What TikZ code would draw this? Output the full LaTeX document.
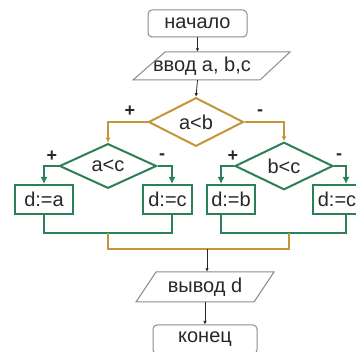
\documentclass[tikz,border=0pt]{standalone}
\usepackage{fontspec}
\setmainfont{Liberation Sans}
\usetikzlibrary{shapes.geometric,arrows.meta,calc}
\definecolor{gline}{RGB}{45,128,85}
\definecolor{oline}{RGB}{196,150,58}
\definecolor{bline}{RGB}{140,140,140}
\definecolor{txt}{RGB}{40,40,40}
\tikzset{
  lbl/.style={font=\fontsize{20}{22}\selectfont, text=txt},
  termbox/.style={lbl, draw=bline, line width=1pt, rounded corners=4pt, inner sep=0pt},
  iotext/.style={lbl, inner sep=0pt},
  ioline/.style={draw=bline, line width=1pt},
  obox/.style={lbl, draw=oline, line width=2pt, diamond, inner sep=0pt},
  gdia/.style={lbl, draw=gline, line width=2pt, diamond, inner sep=0pt},
  gbox/.style={lbl, draw=gline, line width=2pt, inner sep=0pt},
  barr/.style={draw=black!85, line width=0.8pt, -{Latex[length=3.5pt,width=3.5pt]}},
  oarr/.style={draw=oline, line width=2pt, -{Latex[length=5pt,width=5pt]}},
  garr/.style={draw=gline, line width=2pt, -{Latex[length=7pt,width=7pt]}},
  gcon/.style={draw=gline, line width=2pt},
  ocon/.style={draw=oline, line width=2pt},
  sign/.style={font=\fontsize{18}{18}\selectfont\bfseries, text=black!85}
}
\begin{document}
\begin{tikzpicture}[x=1pt,y=-1pt]
\useasboundingbox (0,0) rectangle (356,352);
\fill[white] (0,0) rectangle (356,352);
% nodes
\node[termbox, minimum width=99pt, minimum height=27pt] (start) at (197.5,23.5) {начало};
\node[iotext, minimum width=98pt, minimum height=28pt] (in) at (202,66) {ввод a, b,c};
\draw[ioline] ([shift={(-37,-14)}]in.center) -- ([shift={(88,-14)}]in.center)
  -- ([shift={(58,14)}]in.center) -- ([shift={(-69,14)}]in.center) -- cycle;
\node[obox, minimum width=95pt, minimum height=40pt] (ab) at (196,122) {a<b};
\node[gdia, minimum width=97pt, minimum height=38pt] (ac) at (108,166) {a<c};
\node[gdia, minimum width=98pt, minimum height=38pt] (bc) at (284,166) {b<c};
\node[gbox, minimum width=58pt, minimum height=29pt] (da) at (44,199.5) {d:=a};
\node[gbox, minimum width=49pt, minimum height=29pt] (dc1) at (167.5,199.5) {d:=c};
\node[gbox, minimum width=48pt, minimum height=29pt] (db) at (231,199.5) {d:=b};
\node[gbox, minimum width=48pt, minimum height=29pt] (dc2) at (337,199.5) {d:=c};
\node[iotext, minimum width=80pt, minimum height=30pt] (out) at (205,287) {вывод d};
\draw[ioline] ([shift={(-49,-15)}]out.center) -- ([shift={(69,-15)}]out.center)
  -- ([shift={(49,15)}]out.center) -- ([shift={(-69,15)}]out.center) -- cycle;
\node[termbox, minimum width=104pt, minimum height=29pt] (end) at (205,339.5) {конец};
% helper coordinates
\coordinate (jl) at (108,233);
\coordinate (jr) at (289,233);
\coordinate (m) at (207,249);
% connectors
\draw[barr] (start.south) -- (start.south |- in.north);
\draw[barr] (start.south |- in.south) -- (ab.north);
\draw[oarr] (ab.west) -| (ac.north);
\draw[oarr] (ab.east) -| (bc.north);
\draw[garr] (ac.west) -| (da.north);
\draw[garr] (ac.east) -| ([xshift=4.5pt]dc1.north);
\draw[garr] (bc.west) -| ([xshift=-10pt]db.north);
\draw[garr] (bc.east) -| ([xshift=9pt]dc2.north);
\draw[gcon] (da.south) |- (jl) -| ([xshift=4.5pt]dc1.south);
\draw[gcon] ([xshift=-10pt]db.south) |- (jr) -| ([xshift=9pt]dc2.south);
\draw[ocon] (jl) |- (m) -| (jr);
\draw[barr] (m) -- (m |- out.north);
\draw[barr] (end.north |- out.south) -- (end.north);
% signs
\node[sign] (p1) at (130,111) {+};
\node[sign] (m1) at (260,113) {-};
\node[sign] (p2) at (52,156) {+};
\node[sign] (m2) at (162,157) {-};
\node[sign] (p3) at (233,156) {+};
\node[sign] (m3) at (339,157) {-};
\end{tikzpicture}
\end{document}
